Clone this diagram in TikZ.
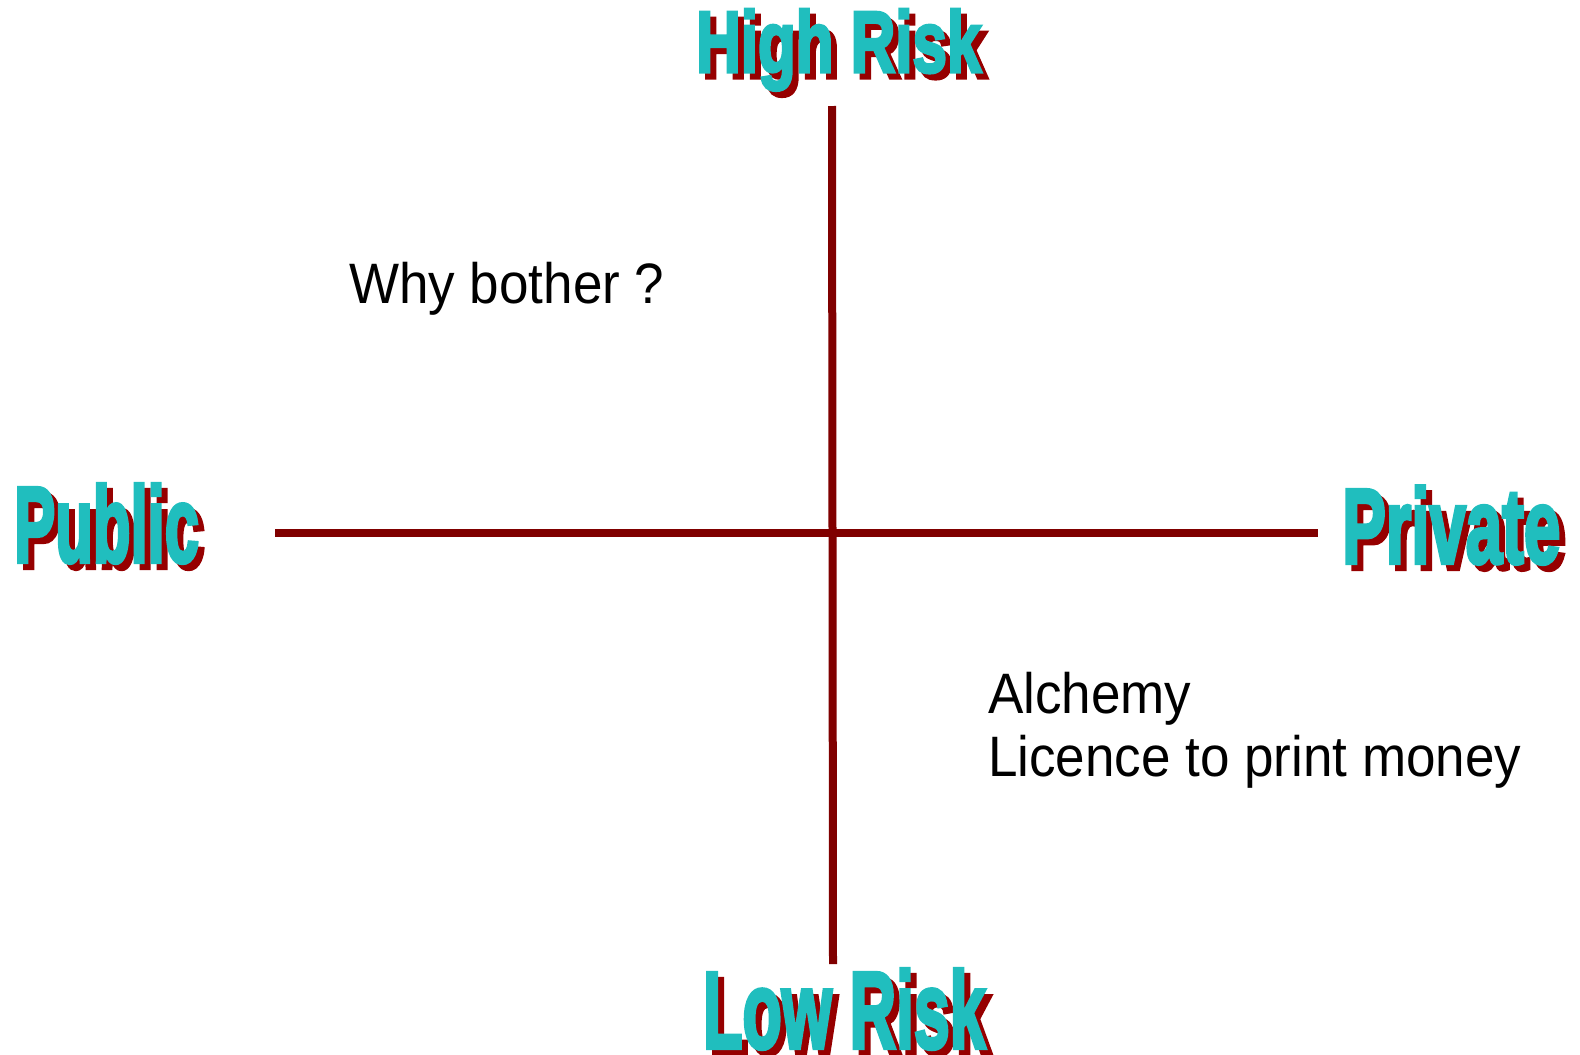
\documentclass[tikz,border=0pt]{standalone}
\usepackage{fontspec}
\setmainfont{Liberation Sans}
\newfontfamily\headfont{Liberation Sans Bold}[FakeBold=4]
\definecolor{axisred}{RGB}{128,0,0}
\definecolor{shadowred}{RGB}{150,0,0}
\definecolor{headcyan}{RGB}{32,190,190}
\tikzset{
  axis/.style={draw=axisred,line width=8pt,line cap=butt},
  headshadow/.style={anchor=base west,inner sep=0pt,text=shadowred},
  headtext/.style={anchor=base west,inner sep=0pt,text=headcyan},
  bodytext/.style={anchor=base west,inner sep=0pt,text=black,align=left}
}
\newcommand\hirisk{\scalebox{0.714}[1]{\fontsize{86.6}{90}\headfont High Risk}}
\newcommand\lorisk{\scalebox{0.59}[1]{\fontsize{109}{112}\headfont Low Risk}}
\newcommand\publbl{\scalebox{0.573}[1]{\fontsize{107.5}{110}\headfont Public}}
\newcommand\privlbl{\scalebox{0.617}[1]{\fontsize{106}{110}\headfont Private}}
\newcommand\bodyfmt[1]{\scalebox{0.93}[1]{\fontsize{57}{63}\selectfont #1}}
\begin{document}
\begin{tikzpicture}[x=1pt,y=-1pt]
\useasboundingbox (0,0) rectangle (1580,1055);
% axes
\coordinate (vt) at (832,106);
\coordinate (vb) at (833,964);
\coordinate (hl) at (275,533);
\coordinate (hr) at (1318,533);
\draw[axis] (vt) -- (vb);
\draw[axis] (hl) -- (hr);
% headings
\node[headshadow] (highS) at (702,78) {\hirisk};
\node[headtext] (high) at (696,72) {\hirisk};
\node[headshadow] (lowS) at (709,1054) {\lorisk};
\node[headtext] (low) at (703,1048) {\lorisk};
\node[headshadow] (pubS) at (20,568) {\publbl};
\node[headtext] (pub) at (14,562) {\publbl};
\node[headshadow] (privS) at (1348,569) {\privlbl};
\node[headtext] (priv) at (1342,563) {\privlbl};
% quadrant texts
\node[bodytext] (why) at (349,303) {\bodyfmt{Why bother ?}};
\node[bodytext] (alch) at (988,713) {\bodyfmt{Alchemy}};
\node[bodytext] (lic) at (988,776) {\bodyfmt{Licence to print money}};
\end{tikzpicture}
\end{document}
